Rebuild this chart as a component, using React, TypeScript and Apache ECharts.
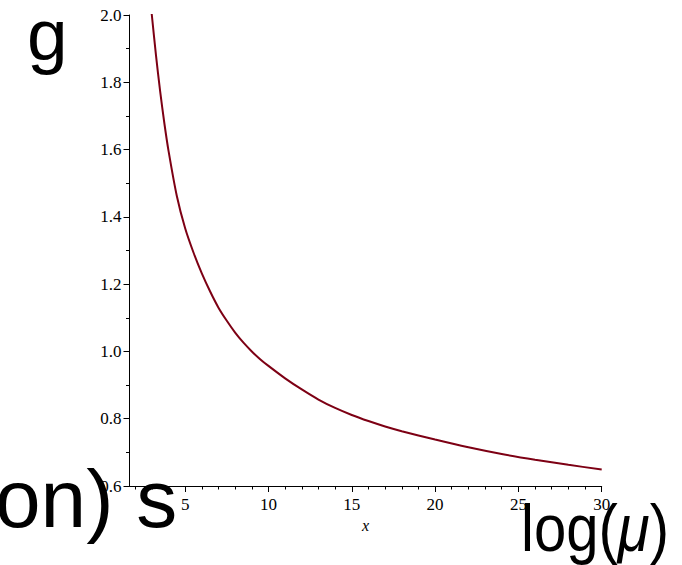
import React, { useEffect, useRef } from "react";
import * as echarts from "echarts";

const xValues = [2.95, 3.0, 3.25, 3.5, 3.75, 4.0, 4.5, 5.0, 5.5, 6.0, 6.5, 7.0, 7.5, 8.0, 8.5, 9.0, 9.5, 10, 11, 12, 13, 14, 15, 16, 17, 18, 20, 22, 24, 26, 28, 30];
const gValues = [2.025, 2.0, 1.88, 1.773, 1.679, 1.597, 1.462, 1.366, 1.294, 1.232, 1.178, 1.13, 1.091, 1.056, 1.026, 1.0, 0.977, 0.957, 0.92, 0.887, 0.857, 0.832, 0.811, 0.793, 0.777, 0.763, 0.738, 0.715, 0.695, 0.678, 0.663, 0.649];
const xMajorTicks = [5, 10, 15, 20, 25, 30];
const xMinorTicks = [2, 3, 4, 6, 7, 8, 9, 11, 12, 13, 14, 16, 17, 18, 19, 21, 22, 23, 24, 26, 27, 28, 29];

const serif = '"Liberation Serif", "Times New Roman", serif';
const sans = '"Liberation Sans", Arial, sans-serif';

export default function App() {
  const ref = useRef<HTMLDivElement>(null);
  useEffect(() => {
    if (!ref.current) return;
    const chart = echarts.init(ref.current, null, { renderer: "svg" });
    const xMin = 1.66;
    const xMax = 30;
    chart.setOption({
      animation: false,
      backgroundColor: "#ffffff",
      grid: { left: 129.5, right: 80.3, top: 15, bottom: 79, containLabel: false, outerBoundsMode: "none" },
      xAxis: [
        {
          type: "value",
          min: xMin,
          max: xMax,
          name: "x",
          nameLocation: "middle",
          nameGap: 27,
          nameTextStyle: { fontFamily: serif, fontStyle: "italic", fontSize: 16, color: "#000" },
          axisLine: { show: true, onZero: false, lineStyle: { color: "#000", width: 1 } },
          axisTick: { show: true, customValues: xMajorTicks, length: 6, lineStyle: { color: "#000" } },
          axisLabel: { customValues: xMajorTicks, fontFamily: serif, fontSize: 17, color: "#000", margin: 10 },
          splitLine: { show: false },
        },
        {
          type: "value",
          min: xMin,
          max: xMax,
          position: "bottom",
          axisLine: { show: false, onZero: false },
          axisTick: { show: true, customValues: xMinorTicks, length: 3.5, lineStyle: { color: "#000" } },
          axisLabel: { show: false },
          splitLine: { show: false },
        },
      ],
      yAxis: {
        type: "value",
        min: 0.6,
        max: 2.0,
        interval: 0.2,
        axisLine: { show: true, onZero: false, lineStyle: { color: "#000", width: 1 } },
        axisTick: { show: true, length: 6, lineStyle: { color: "#000" } },
        minorTick: { show: true, splitNumber: 2, length: 3.5, lineStyle: { color: "#000" } },
        axisLabel: {
          fontFamily: serif,
          fontSize: 17,
          color: "#000",
          margin: 8,
          formatter: (v: number) => v.toFixed(1),
        },
        splitLine: { show: false },
        minorSplitLine: { show: false },
      },
      series: [
        {
          type: "line",
          xAxisIndex: 0,
          data: xValues.map((x, i) => [x, gValues[i]]),
          smooth: 0.3,
          showSymbol: false,
          clip: true,
          lineStyle: { color: "#7d0014", width: 2 },
          itemStyle: { color: "#7d0014" },
        },
      ],
      graphic: [
        {
          type: "text",
          x: 27,
          y: 34,
          z: 100,
          style: { text: "g", font: `73px ${sans}`, fill: "#000", verticalAlign: "middle", align: "left" },
        },
        {
          type: "text",
          x: -5,
          y: 498,
          z: 100,
          style: { text: "on) s", font: `82px ${sans}`, fill: "#000", verticalAlign: "middle", align: "left" },
        },
        {
          type: "text",
          x: 521,
          y: 528,
          z: 100,
          scaleX: 0.88,
          style: {
            text: "{a|log(}{b|μ}{a|)}",
            fill: "#000",
            verticalAlign: "middle",
            align: "left",
            rich: {
              a: { font: `66px ${sans}`, fill: "#000" },
              b: { font: `italic 66px ${sans}`, fill: "#000" },
            },
          },
        },
      ],
    });
    return () => chart.dispose();
  }, []);
  return <div ref={ref} style={{ position: "fixed", left: 0, top: 0, width: 682, height: 565 }} />;
}
